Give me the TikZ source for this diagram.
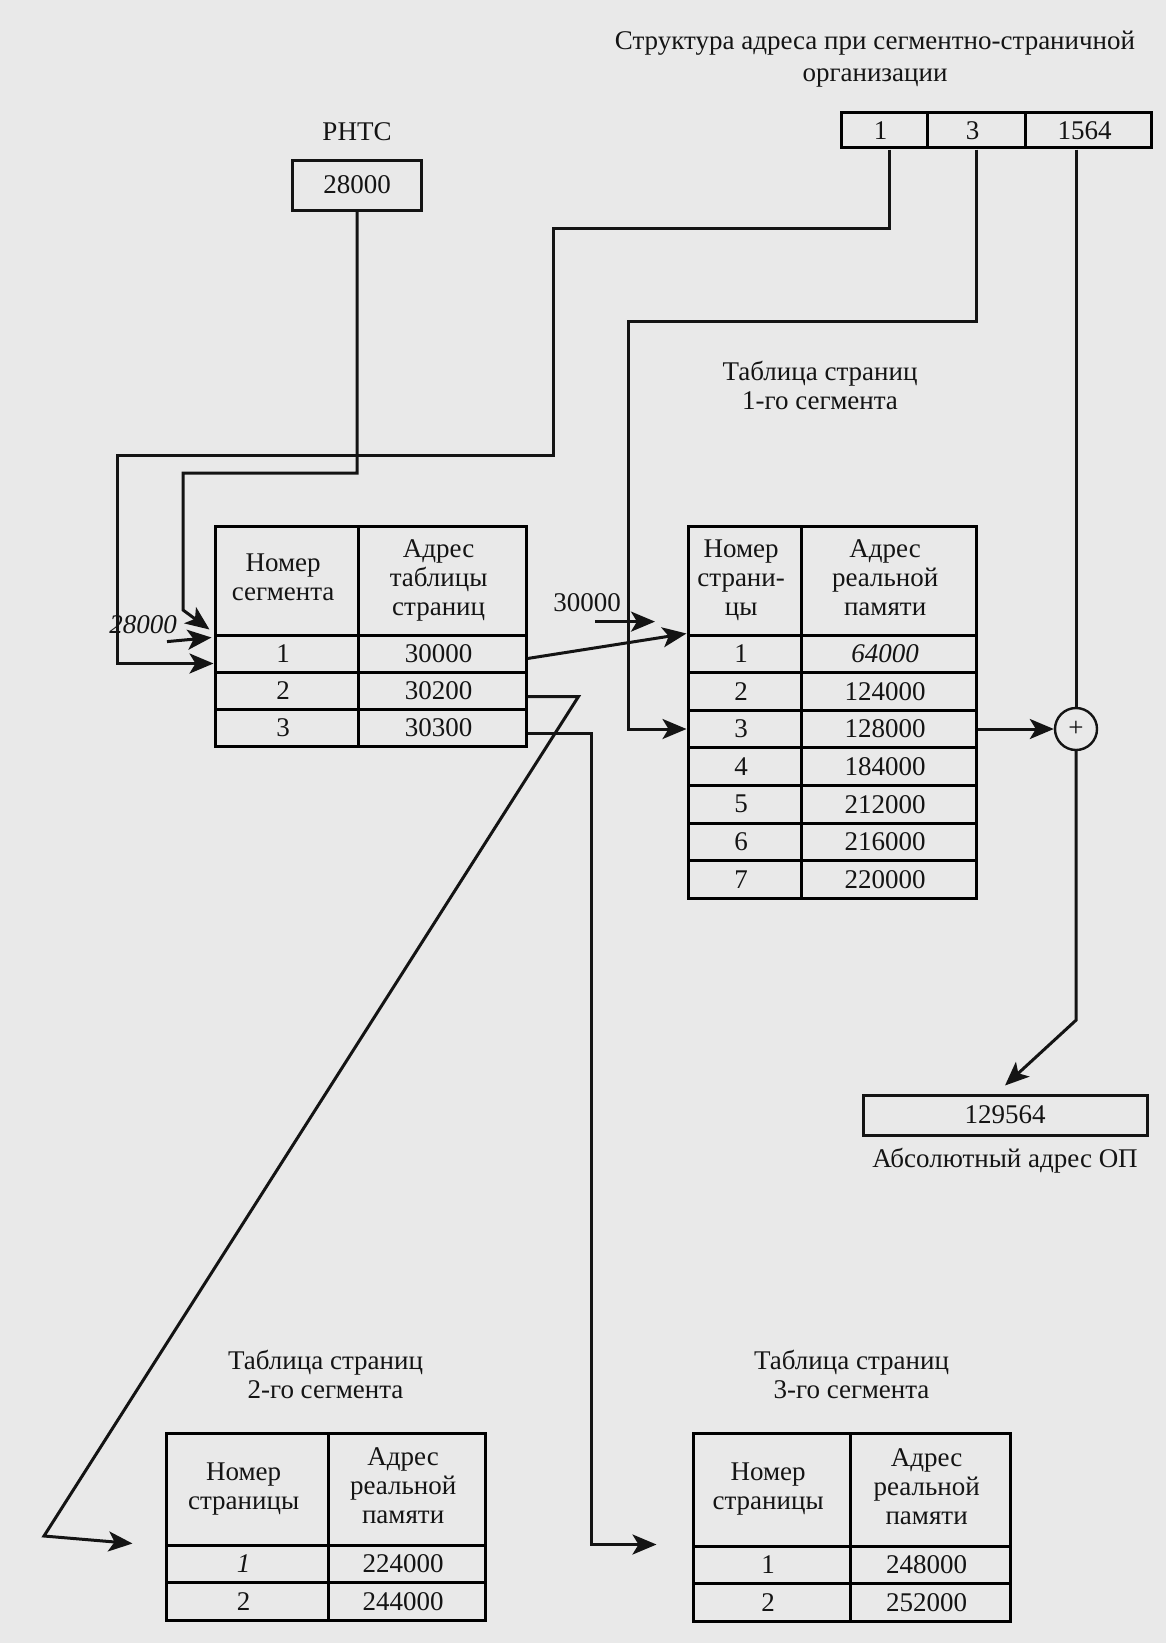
\documentclass[tikz,border=0pt]{standalone}
\usepackage{fontspec}
\setmainfont{Liberation Serif}
\usetikzlibrary{arrows.meta, positioning, matrix}
\definecolor{paper}{HTML}{E9E9E9}
\definecolor{ink}{HTML}{141414}
\newcommand{\stk}[1]{\begin{tabular}{@{}c@{}}#1\end{tabular}}
\tikzset{
  every picture/.style={font=\fontsize{13.5}{14.5}\selectfont, line width=1.5pt, color=ink},
  tbl/.style={matrix of nodes, inner sep=0pt, anchor=north west, column sep=-\pgflinewidth, row sep=-\pgflinewidth,
      nodes={draw, anchor=center, inner sep=0pt, align=center, minimum height=18.5pt},
      row 1/.style={nodes={minimum height=54.5pt}}},
  box/.style={draw, inner sep=0pt, align=center},
  arrow/.style={-{Stealth[length=12pt, width=10pt, inset=3pt]}},
  title/.style={align=center, inner sep=0pt},
  adder/.style={draw, circle, minimum size=21pt, inner sep=0pt, line width=1.2pt},
}

\begin{document}
\begin{tikzpicture}[x=0.5pt, y=-0.5pt]
  \path[use as bounding box, fill=paper] (0,0) rectangle (1166,1643);
  % address structure
  \node[title, font=\fontsize{13.5}{16}\selectfont] (head) at (875,59) {Структура адреса при сегментно-страничной\\организации};
  \matrix (addr) [tbl, row 1/.style={nodes={minimum height=17.5pt}},
      column 1/.style={nodes={minimum width=43pt}}, column 2/.style={nodes={minimum width=49pt}},
      column 3/.style={nodes={minimum width=63pt}}] at (838,110)
  { 1 & 3 & 1564 \\ };
  \node[box, minimum width=64.5pt, minimum height=25pt] (rnts) at (357,185) {28000};
  \node[title, above=8pt of rnts] (rntslbl) {РНТС};
  % segment table
  \matrix (seg) [tbl, column 1/.style={nodes={minimum width=71.5pt}}, column 2/.style={nodes={minimum width=84pt}}] at (212,523)
  { \stk{Номер\\сегмента} & \stk{Адрес\\таблицы\\страниц} \\ 1 & 30000 \\ 2 & 30200 \\ 3 & 30300 \\ };
  \node[title] (lbl28) at (143,625) {\textit{28000}};
  % page table, segment 1
  \matrix (pt1) [tbl, nodes={minimum height=18.8pt}, column 1/.style={nodes={minimum width=56.5pt}},
      column 2/.style={nodes={minimum width=87.5pt}}] at (685,523)
  { \stk{Номер\\страни-\\цы} & \stk{Адрес\\реальной\\памяти} \\ 1 & \textit{64000} \\ 2 & 124000 \\ 3 & 128000 \\
    4 & 184000 \\ 5 & 212000 \\ 6 & 216000 \\ 7 & 220000 \\ };
  \node[title, above=56pt of pt1, xshift=-6pt] (pt1lbl) {Таблица страниц\\1-го сегмента};
  \node[title] (lbl30) at (587,603) {30000};
  % adder and result
  \node[adder] (sum) at ([xshift=-6pt]addr-1-3.south |- pt1-4-2.east) {+};
  \node[box, minimum width=142pt, minimum height=20pt] (res) at (1005,1115) {129564};
  \node[title, below=5pt of res] (reslbl) {Абсолютный адрес ОП};
  % page tables, segments 2 and 3
  \matrix (pt2) [tbl, nodes={minimum height=18.75pt}, row 1/.style={nodes={minimum height=56pt}},
      column 1/.style={nodes={minimum width=81pt}}, column 2/.style={nodes={minimum width=78.5pt}}] at (163,1430)
  { \stk{Номер\\страницы} & \stk{Адрес\\реальной\\памяти} \\ \textit{1} & 224000 \\ 2 & 244000 \\ };
  \node[title, above=15pt of pt2] (pt2lbl) {Таблица страниц\\2-го сегмента};
  \matrix (pt3) [tbl, nodes={minimum height=18.75pt}, row 1/.style={nodes={minimum height=56.5pt}},
      column 1/.style={nodes={minimum width=78.5pt}}, column 2/.style={nodes={minimum width=80pt}}] at (690,1430)
  { \stk{Номер\\страницы} & \stk{Адрес\\реальной\\памяти} \\ 1 & 248000 \\ 2 & 252000 \\ };
  \node[title, above=15pt of pt3] (pt3lbl) {Таблица страниц\\3-го сегмента};
  % connectors
  \draw[arrow] (rnts.south) |- (183,473) -- (183,610) -- ([shift={(-2pt,2pt)}]seg-2-1.north west);
  \draw[arrow] ([xshift=2.5pt]addr-1-1.south) |- (553,228) |- (117,455) |- ([yshift=-5pt]seg-2-1.west);
  \draw[arrow] ([xshift=12pt,yshift=-3pt]lbl28.south) -- ([shift={(-1pt,-2pt)}]seg-2-1.north west);
  \draw[arrow] ([yshift=-2.5pt]seg-2-2.east) -- (pt1-2-1.north west);
  \draw[arrow] ([xshift=4pt,yshift=-4pt]lbl30.south) -- ++(60,0);
  \draw[arrow] (addr-1-2.south) |- (628,321) |- (pt1-4-1.west);
  \draw[arrow] ([yshift=-3pt]seg-3-2.east) -- ++(51,0) -- (44,1536) -- ([xshift=-16pt]pt2-2-1.north west);
  \draw[arrow] ([yshift=-3pt]seg-4-2.east) -- ++(64,0) |- ([xshift=-17.5pt]pt3-2-1.north west);
  \draw ([xshift=-6pt]addr-1-3.south) -- (sum);
  \draw[arrow] (pt1-4-2.east) -- (sum);
  \draw[arrow] (sum.south) -- ++(0,269) -- ([yshift=4pt]res.north);
\end{tikzpicture}
\end{document}
